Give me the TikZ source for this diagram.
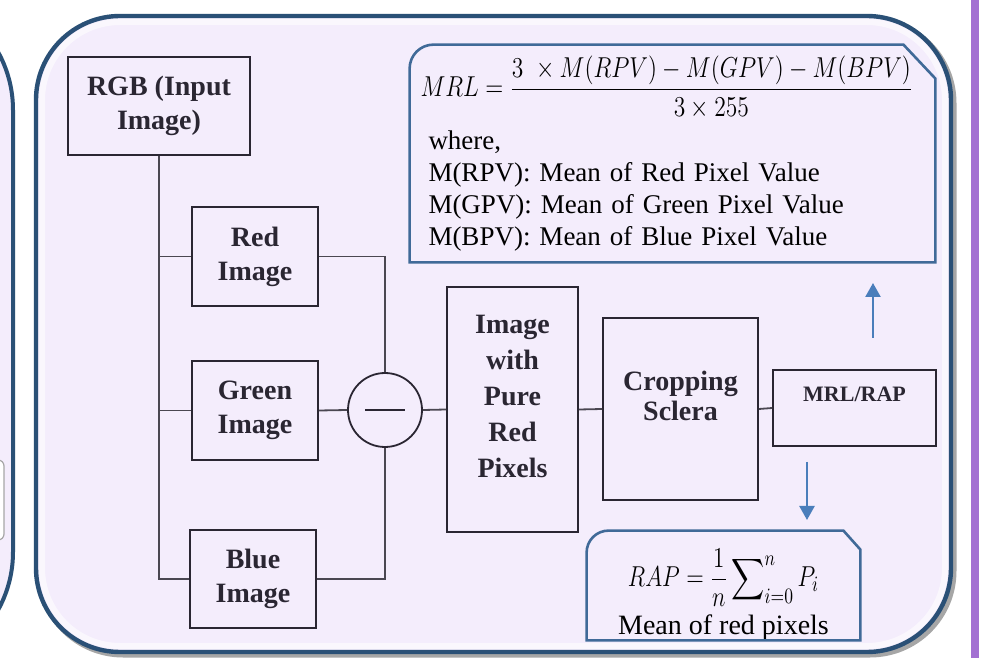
\documentclass[tikz,border=0pt]{standalone}
\usepackage{amsmath}
\usepackage{graphicx}
\usepackage{fontspec}
\setmainfont{Liberation Serif}[BoldFont={* Bold},ItalicFont={* Italic}]
\usetikzlibrary{arrows.meta,calc,positioning}

\definecolor{lavender}{RGB}{244,237,252}
\definecolor{framenavy}{RGB}{42,80,118}
\definecolor{boxblue}{RGB}{64,106,152}
\definecolor{arrowblue}{RGB}{74,126,187}
\definecolor{barpurple}{RGB}{163,112,210}
\definecolor{boxline}{RGB}{42,38,50}

\tikzset{
  stage/.style={draw=boxline,line width=0.9pt,align=center,text=boxline,
    font=\fontsize{14}{17}\selectfont\bfseries,inner sep=0pt},
  wire/.style={draw=boxline!85,line width=0.9pt},
  note/.style={align=left,inner sep=0pt,font=\fontsize{13.5}{16}\selectfont},
  noteline/.style={boxblue,line width=1.3pt},
  flow/.style={arrowblue,line width=1.2pt,-{Triangle[length=7pt,width=7.5pt]}},
}

\begin{document}
\begin{tikzpicture}[x=0.5pt,y=-0.5pt]
  \useasboundingbox (0,0) rectangle (982,658);
  \clip (0,0) rectangle (982,658);
  \fill[white] (0,0) rectangle (982,658);

  % neighbouring panels (cut by the page)
  \draw[framenavy,line width=2pt,fill=lavender,rounded corners=60pt] (-300,-10) rectangle (13,672);
  \draw[gray!70,fill=white,line width=0.6pt,rounded corners=3pt] (-60,460) rectangle (4,540);
  \fill[barpurple] (971,-5) rectangle (979,665);

  % main panel
  \draw[black!35,line width=2.5pt,rounded corners=42pt] (39,19) rectangle (954,655);
  \draw[framenavy,line width=2.2pt,fill=lavender,rounded corners=42pt] (36,16) rectangle (951,652);
  \draw[white,opacity=0.6,line width=3pt,rounded corners=39pt] (42,22) rectangle (945,646);

  % processing stages
  \node[stage,minimum width=91pt,minimum height=49pt] (rgb) at (159,106) {RGB (Input\\Image)};
  \node[stage,minimum width=63pt,minimum height=49.5pt] (red) at (255,256.5) {Red\\Image};
  \node[stage,minimum width=63pt,minimum height=49.5pt] (green) at (255,410.5) {Green\\Image};
  \node[stage,minimum width=63pt,minimum height=49pt] (blue) at (253,579) {Blue\\Image};
  \node[circle,draw=boxline,line width=0.9pt,minimum size=37pt,inner sep=0pt,text=boxline]
    (minus) at (385,410) {\rule{20pt}{0.8pt}};
  \node[stage,font=\fontsize{14}{18}\selectfont\bfseries,minimum width=65.5pt,minimum height=122.5pt]
    (pure) at (512.5,409.5) {Image\\with\\Pure\\Red\\Pixels\\[-5pt]\mbox{}};
  \node[stage,font=\fontsize{14}{15}\selectfont\bfseries,minimum width=77.5pt,minimum height=91pt]
    (crop) at (680.5,409) {Cropping\\Sclera\\[-2pt]\mbox{}};
  \node[stage,font=\fontsize{11}{14}\selectfont\bfseries,minimum width=81.5pt,minimum height=38pt]
    (mrlrap) at (854.5,408) {MRL/RAP\\\mbox{}};

  % connections
  \draw[wire] (rgb.south) |- (blue.west);
  \draw[wire] (rgb.south |- red.west) -- (red.west);
  \draw[wire] (rgb.south |- green.west) -- (green.west);
  \draw[wire] (red.east) -| (minus.north);
  \draw[wire] (blue.east) -| (minus.south);
  \draw[wire] (green.east) -- (minus.west);
  \draw[wire] (minus.east) -- (pure.west);
  \draw[wire] (pure.east) -- (crop.west);
  \draw[wire] (crop.east) -- (mrlrap.west);

  % MRL definition
  \node[note,text width=252pt,minimum width=262.5pt,minimum height=108.5pt] (mrlbox) at (672.5,153.5)
    {{\fontsize{14}{16}\selectfont\scalebox{0.82}[1]{$\displaystyle MRL = \frac{3\ \times M(RPV)-M(GPV)-M(BPV)}{3\times 255}$}}\\[5pt]
     \hspace{4pt}where,\\
     \hspace{4pt}M(RPV): Mean of Red Pixel Value\\
     \hspace{4pt}M(GPV): Mean of Green Pixel Value\\
     \hspace{4pt}M(BPV): Mean of Blue Pixel Value};
  \draw[noteline] (mrlbox.south west) -- ($(mrlbox.north west)+(0,24)$)
    to[out=90,in=180] ($(mrlbox.north west)+(24,0)$) -- ($(mrlbox.north east)+(-32,0)$)
    -- ($(mrlbox.north east)+(0,34)$) -- (mrlbox.south east) -- cycle;

  % RAP definition
  \node[note,align=center,font=\fontsize{14}{16}\selectfont,minimum width=136.5pt,minimum height=54.5pt]
    (rapbox) at (723.5,585.5)
    {{\fontsize{15}{16}\selectfont\scalebox{0.8}[1]{$\displaystyle RAP = \frac{1}{n}\sum\nolimits_{i=0}^{n} P_i$}\hspace{16pt}}\\[3pt]
     Mean of red pixels\\[-22pt]\mbox{}};
  \draw[noteline] (rapbox.south west) -- ($(rapbox.north west)+(0,22)$)
    to[out=90,in=180] ($(rapbox.north west)+(22,0)$) -- ($(rapbox.north east)+(-17,0)$)
    -- ($(rapbox.north east)+(0,19)$) -- (rapbox.south east) -- cycle;

  % result arrows
  \coordinate (uptail) at (873,338);
  \coordinate (uptip) at (873,283);
  \coordinate (dntail) at (807,462);
  \coordinate (dntip) at (807,520);
  \draw[flow] (uptail) -- (uptip);
  \draw[flow] (dntail) -- (dntip);
\end{tikzpicture}
\end{document}
